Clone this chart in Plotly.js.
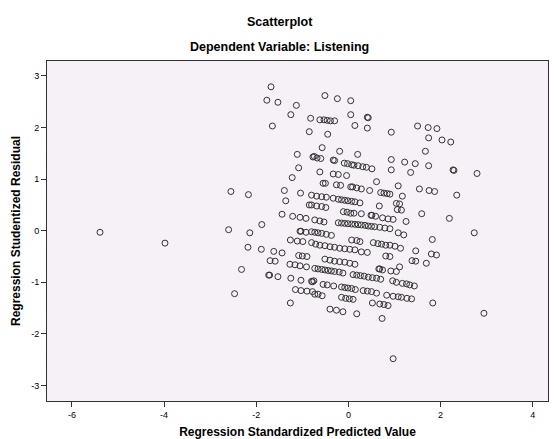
<!DOCTYPE html>
<html>
<head>
<meta charset="utf-8">
<script src="https://cdn.plot.ly/plotly-3.0.1.min.js"></script>
<style>html,body{margin:0;padding:0;background:#fff;}#chart{width:556px;height:439px;}</style>
</head>
<body>
<div id="chart"></div>
<script>
// Regression Standardized Predicted Value (x) and Regression Studentized Residual (y)
var predicted = [
-5.39,-3.98,
-1.68,-1.77,-1.53,-1.13,-1.25,-0.82,-1.65,-0.85,-1.11,-0.77,-0.74,-1.08,
-0.51,-0.24,0.05,0.05,0.41,0.43,-0.62,-0.53,-0.46,-0.39,-0.30,0.14,0.41,0.93,-0.45,-0.57,-0.19,0.20,0.93,1.22,-0.68,-0.60,
-0.33,-0.30,-0.09,-0.02,0.07,0.12,0.21,0.31,0.39,0.51,
-0.62,-0.33,-0.22,-0.04,0.93,
1.50,1.73,1.92,1.74,2.03,2.22,1.67,1.45,1.74,1.35,2.27,2.29,2.79,
1.54,1.75,1.87,2.35,1.17,1.59,2.19,1.25,1.20,2.73,1.82,1.13,1.46,1.80,1.91,1.38,1.46,1.69,
1.17,1.26,1.33,1.43,1.15,1.27,1.37,1.83,2.94,
-1.22,-2.55,-2.17,-1.39,-1.04,-1.36,-0.85,-0.80,-1.44,-1.21,-1.05,-0.92,-1.88,-2.60,-2.14,-1.05,-1.03,-0.92,-1.26,-1.11,-0.99,-2.18,-1.89,-1.62,-1.44,-1.08,-1.00,-0.90,-1.70,-1.59,-1.27,-1.16,-1.05,-0.91,-2.32,
-1.73,-1.71,-1.53,-1.25,-1.03,-0.78,-0.80,-1.15,-1.03,-0.90,-0.78,-2.47,-1.26,
-0.73,-0.66,-0.58,-0.51,-0.44,-0.37,-0.30,-0.20,-0.12,
0.66,0.68,0.74,0.92,1.04,
0.10,0.18,0.26,0.34,0.43,0.52,0.61,0.70,
-0.75,-0.55,-0.46,-0.32,0.96,1.04,
-0.15,-0.08,-0.01,0.07,0.15,0.32,0.41,0.50,0.61,0.83,0.97,1.08,
-0.73,-0.66,-0.57,-0.15,-0.06,0.02,0.10,0.52,0.68,0.77,0.86,
-0.40,-0.26,-0.12,0.18,0.73,0.97,
-0.55,-0.50,-0.26,-0.17,0.05,0.09,0.18,0.28,0.61,1.08,0.46,0.70,0.77,0.84,0.90,
-0.80,-0.69,-0.58,-0.48,
-0.33,-0.22,-0.15,-0.08,-0.01,0.07,0.14,0.25,
0.67,1.04,1.11,
-0.69,-0.58,-0.49,
-0.11,-0.03,0.05,0.12,0.28,
0.49,0.51,0.59,0.74,0.86,0.97,
1.06,1.15,
-0.73,-0.62,-0.53,
-0.22,-0.15,-0.08,-0.01,0.07,0.14,0.21,0.28,0.36,0.43,0.50,0.57,0.68,0.79,0.90,
1.08,
-0.80,-0.73,-0.66,-0.58,-0.48,-0.37,
0.07,0.18,0.25,
0.54,0.64,0.72,0.81,0.90,1.01,
-0.80,-0.71,-0.62,-0.51,-0.40,-0.30,-0.19,-0.08,0.03,0.14,
0.28,0.41,0.81,0.90,
-0.51,-0.40,-0.30,-0.19,-0.08,0.03,0.14,
1.11
];
var residual = [
-0.03,-0.24,
2.79,2.53,2.49,2.43,2.25,2.18,2.03,1.92,1.48,1.43,1.44,1.22,
2.62,2.56,2.52,2.25,2.20,2.19,2.15,2.15,2.14,2.13,2.13,2.04,1.99,1.91,1.87,1.61,1.54,1.48,1.38,1.33,1.41,1.40,
1.37,1.36,1.31,1.30,1.28,1.27,1.26,1.24,1.23,1.20,
1.14,1.10,1.09,1.07,1.18,
2.03,2.00,1.98,1.80,1.76,1.72,1.54,1.30,1.26,1.13,1.18,1.17,1.11,
0.81,0.78,0.76,0.69,0.67,0.33,0.24,0.18,-0.08,-0.04,-0.17,-0.34,-0.39,-0.45,-0.47,-0.58,-0.59,-0.63,
-1.02,-1.03,-1.05,-1.07,-1.29,-1.31,-1.32,-1.40,-1.60,
1.03,0.76,0.70,0.78,0.73,0.58,0.50,0.50,0.32,0.28,0.26,0.24,0.12,0.02,-0.04,-0.01,-0.01,-0.03,-0.18,-0.20,-0.21,-0.32,-0.36,-0.40,-0.43,-0.48,-0.49,-0.50,-0.58,-0.59,-0.65,-0.66,-0.68,-0.70,-0.75,
-0.86,-0.86,-0.89,-0.92,-0.96,-0.99,-0.98,-1.14,-1.16,-1.17,-1.18,-1.22,-1.40,
-0.73,-0.74,-0.75,-0.76,-0.77,-0.78,-0.79,-0.80,-0.82,
-0.74,-0.74,-0.76,-0.78,-0.79,
-0.85,-0.86,-0.87,-0.88,-0.90,-0.91,-0.92,-0.94,
-0.97,-1.04,-1.05,-1.07,-0.97,-1.00,
-1.09,-1.10,-1.11,-1.12,-1.14,-1.16,-1.17,-1.18,-1.21,-1.25,-1.27,-1.28,
-1.23,-1.23,-1.26,-1.29,-1.31,-1.32,-1.33,-1.40,-1.42,-1.43,-1.45,
-1.52,-1.54,-1.57,-1.61,-1.70,-2.48,
0.92,0.92,0.89,0.88,0.85,0.85,0.83,0.81,0.95,0.87,0.78,0.74,0.73,0.72,0.71,
0.69,0.67,0.66,0.65,
0.63,0.61,0.60,0.59,0.58,0.57,0.56,0.54,
0.48,0.53,0.52,
0.48,0.47,0.45,
0.37,0.36,0.34,0.34,0.33,
0.30,0.30,0.28,0.25,0.23,0.22,
0.41,0.40,
0.21,0.19,0.17,
0.155,0.149,0.143,0.136,0.13,0.124,0.118,0.112,0.105,0.092,0.085,0.078,0.066,0.052,0.039,
-0.04,
-0.02,-0.03,-0.04,-0.05,-0.07,-0.09,
-0.18,-0.19,-0.21,
-0.23,-0.25,-0.26,-0.28,-0.28,-0.30,
-0.23,-0.26,-0.28,-0.29,-0.31,-0.32,-0.34,-0.35,-0.36,-0.37,
-0.41,-0.42,-0.49,-0.50,
-0.55,-0.57,-0.59,-0.60,-0.61,-0.63,-0.65,
-0.70
];
var xTicks = [-6, -4, -2, 0, 2, 4];
var yTicks = [-3, -2, -1, 0, 1, 2, 3];

var FONT = 'Liberation Sans, Arial, Helvetica, sans-serif';

var trace = {
  type: 'scatter',
  mode: 'markers',
  x: predicted,
  y: residual,
  marker: {symbol: 'circle-open', size: 6, color: '#333333', line: {width: 1, color: '#333333'}},
  hoverinfo: 'x+y'
};

var layout = {
  width: 556, height: 439,
  margin: {l: 47, r: 8, t: 61, b: 38, pad: 0},
  paper_bgcolor: '#ffffff',
  plot_bgcolor: '#f6f1f6',
  showlegend: false,
  font: {family: FONT, color: '#000', size: 10},
  xaxis: {
    range: [-6.54, 4.33],
    tickvals: xTicks,
    ticktext: xTicks.map(String),
    ticks: 'outside', ticklen: 5, tickcolor: '#333',
    showgrid: false, zeroline: false,
    showline: true, mirror: true, linecolor: '#333', linewidth: 1,
    tickfont: {family: FONT, size: 9, color: '#000'},
    title: {text: '<b>Regression Standardized Predicted Value</b>', font: {family: FONT, size: 12, color: '#000'}, standoff: 8}
  },
  yaxis: {
    range: [-3.30, 3.29],
    tickvals: yTicks,
    ticktext: yTicks.map(String),
    ticks: 'outside', ticklen: 5, tickcolor: '#333',
    showgrid: false, zeroline: false,
    showline: true, mirror: true, linecolor: '#333', linewidth: 1,
    tickfont: {family: FONT, size: 9, color: '#000'},
    title: {text: '<b>Regression Studentized Residual</b>', font: {family: FONT, size: 12, color: '#000'}, standoff: 7}
  },
  annotations: [
    {text: '<b>Scatterplot</b>', xref: 'paper', yref: 'paper', x: 0.465, y: 1.115, xanchor: 'center', yanchor: 'middle', showarrow: false, font: {family: FONT, size: 12.5, color: '#000'}},
    {text: '<b>Dependent Variable: Listening</b>', xref: 'paper', yref: 'paper', x: 0.465, y: 1.041, xanchor: 'center', yanchor: 'middle', showarrow: false, font: {family: FONT, size: 12.5, color: '#000'}}
  ]
};

Plotly.newPlot('chart', [trace], layout, {displayModeBar: false, staticPlot: true});
</script>
</body>
</html>
